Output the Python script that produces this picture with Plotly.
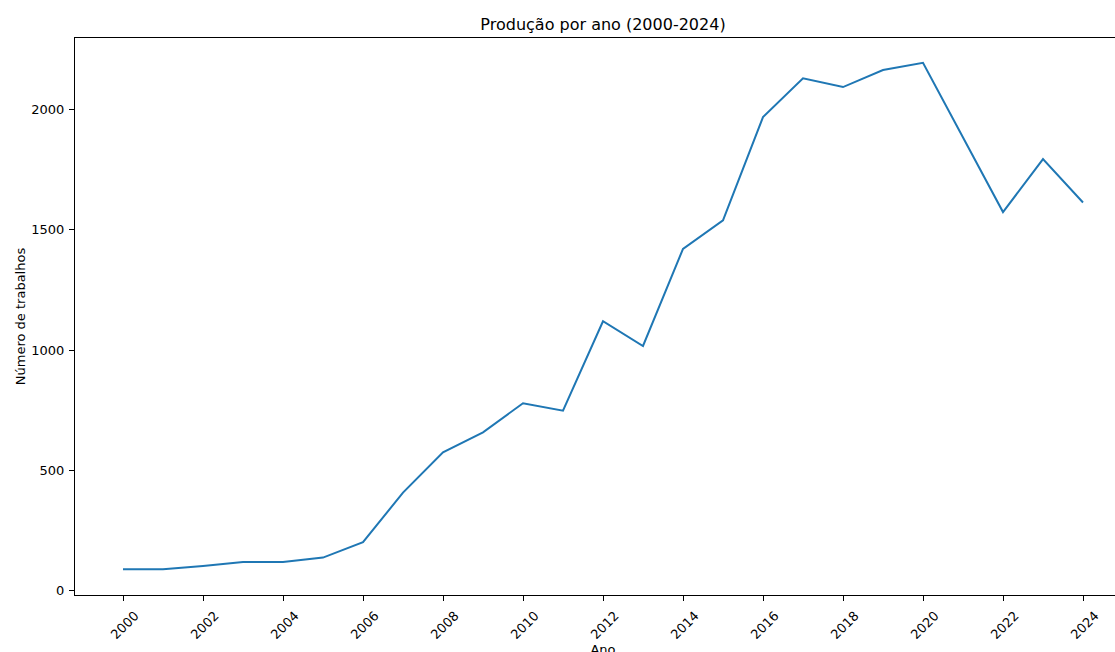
import plotly.graph_objects as go

years = list(range(2000, 2025))
counts = [88, 88, 102, 119, 119, 137, 201, 407, 575, 658, 779, 748, 1120, 1017,
          1421, 1540, 1969, 2130, 2094, 2165, 2195, 1885, 1574, 1794, 1614]
x_ticks = list(range(2000, 2025, 2))
y_ticks = [0, 500, 1000, 1500, 2000]

title_text = "Produção por ano (2000-2024)"
x_label = "Ano"
y_label = "Número de trabalhos"

FONT = "DejaVu Sans"

fig = go.Figure()
fig.add_trace(go.Scatter(x=years, y=counts, mode="lines",
                         line=dict(color="#1f77b4", width=2)))

# figure is a bit larger than the window so the right/bottom edges are clipped as in the original
fig.update_layout(
    width=1131, height=672,
    margin=dict(l=75, r=0, t=38, b=77, pad=0),
    paper_bgcolor="white", plot_bgcolor="white",
    showlegend=False,
    font=dict(family=FONT, size=13, color="black"),
    title=dict(text=title_text, x=603 / 1131, xanchor="center", y=1 - 24 / 672, yanchor="middle",
               font=dict(family=FONT, size=16, color="black")),
)
fig.update_xaxes(
    range=[1998.8, 2025.2], tickmode="array", tickvals=x_ticks,
    ticktext=[str(t) for t in x_ticks], tickangle=-45,
    showgrid=False, zeroline=False, showline=True, linecolor="black", linewidth=1,
    mirror=True,
    ticks="outside", ticklen=5, tickwidth=1, tickcolor="black",
    ticklabelshift=12, ticklabelstandoff=2,
    title=dict(text=x_label, standoff=0, font=dict(size=13)),
    automargin=False,
)
fig.update_yaxes(
    range=[-18.7, 2298], tickmode="array", tickvals=y_ticks,
    showgrid=False, zeroline=False, showline=True, linecolor="black", linewidth=1,
    mirror=True,
    ticks="outside", ticklen=5, tickwidth=1, tickcolor="black",
    ticklabelstandoff=2,
    title=dict(text=y_label, standoff=2, font=dict(size=13)),
    automargin=False,
)

fig.write_html(
    "out.html",
    config={"displayModeBar": False},
    post_script="document.body.style.margin='0';document.body.style.overflow='hidden';",
)
